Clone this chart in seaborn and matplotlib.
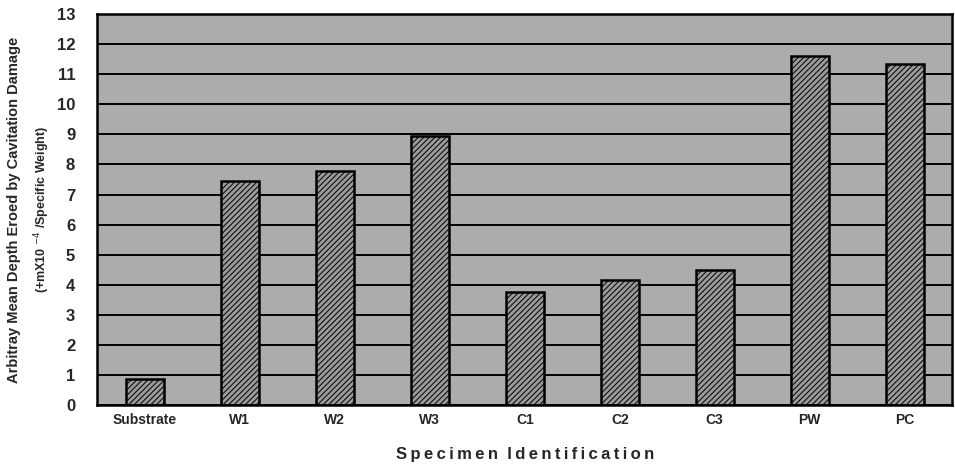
import pandas as pd
import matplotlib.pyplot as plt
import seaborn as sns

# Values
specimens = ['Substrate', 'W1', 'W2', 'W3', 'C1', 'C2', 'C3', 'PW', 'PC']
depth = [0.85, 7.45, 7.8, 8.95, 3.75, 4.15, 4.48, 11.6, 11.33]
y_ticks = list(range(0, 14))

df = pd.DataFrame({'Specimen': specimens, 'Depth': depth})

sns.set_style('white')
plt.rcParams['font.family'] = ['Liberation Sans', 'DejaVu Sans']
plt.rcParams['hatch.color'] = '#454545'
plt.rcParams['hatch.linewidth'] = 0.7

fig, ax = plt.subplots(figsize=(9.55, 4.71), dpi=100)
ax.set_facecolor('#acacac')
ax.set_axisbelow(True)

sns.barplot(x='Specimen', y='Depth', data=df, color='#9a9a9a', width=0.4,
            edgecolor='black', linewidth=1.8, saturation=1, ax=ax)
for bar in ax.patches:
    bar.set_hatch('//////')

ax.set_ylim(0, 13)
ax.set_xlim(-0.5, len(specimens) - 0.5)
ax.set_yticks(y_ticks)
ax.yaxis.grid(True, color='black', linewidth=1.4)
ax.xaxis.grid(False)
for s in ax.spines.values():
    s.set_color('black')
    s.set_linewidth(1.8)

ax.tick_params(axis='y', labelsize=12, length=0, pad=16)
ax.tick_params(axis='x', labelsize=10, length=0, pad=6)
for lbl in ax.get_yticklabels() + ax.get_xticklabels():
    lbl.set_fontweight('bold')

thin = '\u2009'
ax.set_xlabel(thin.join('Specimen') + '  ' + thin.join('Identification'),
              fontsize=12, fontweight='bold', labelpad=14)
ax.set_ylabel('Arbitray Mean Depth Eroed by Cavitation Damage',
              fontsize=10.5, fontweight='bold', labelpad=26)
ax.text(-0.065, 0.5, r'(+mX10 $^{-4}$ /Specific Weight)', transform=ax.transAxes,
        rotation=90, ha='center', va='center', fontsize=9, fontweight='bold')

plt.subplots_adjust(left=0.102, right=0.997, top=0.97, bottom=0.14)
plt.savefig('out.png', dpi=100)
